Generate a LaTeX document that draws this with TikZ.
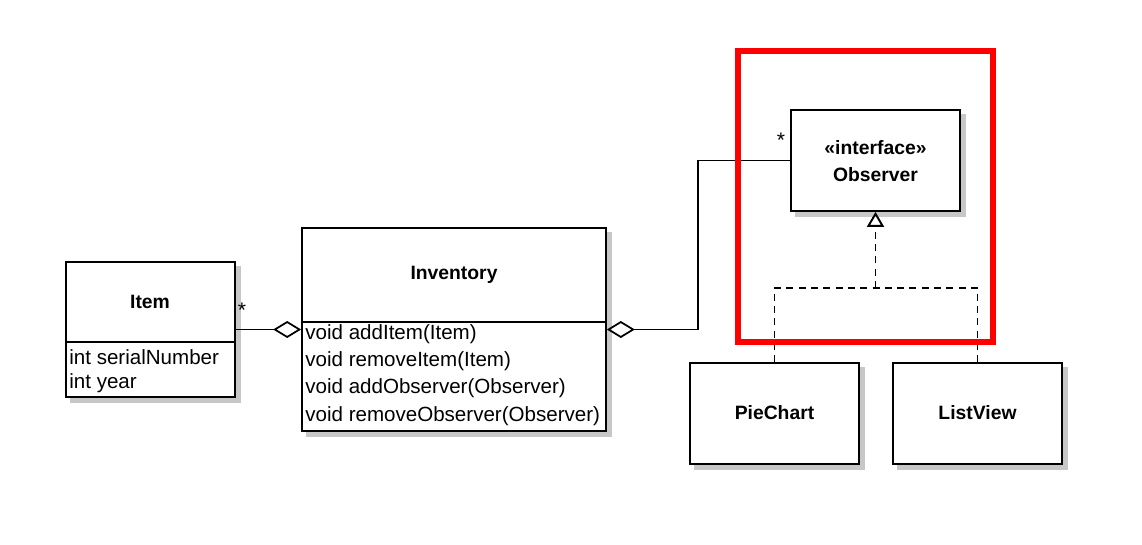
\documentclass[tikz,border=0pt]{standalone}
\usepackage{fontspec}
\setmainfont{Liberation Sans}
\usepackage{tikz}
\usetikzlibrary{arrows.meta, positioning, calc, backgrounds}

\begin{document}
\begin{tikzpicture}[x=0.02cm, y=-0.02cm,
  classbox/.style={draw, line width=1pt, fill=white, inner sep=0pt},
  boxshadow/.style={fill=black!22, draw=none},
  classname/.style={font=\bfseries\fontsize{11}{15}\selectfont, align=center, inner sep=0pt},
  member/.style={font=\fontsize{11.7}{14}\selectfont, anchor=west, inner sep=0pt},
  mult/.style={font=\fontsize{12}{13}\selectfont, inner sep=0pt},
  assoc/.style={line width=1pt, {Diamond[open, length=0.56cm, width=0.34cm]}-},
  realize/.style={line width=1.1pt, dash pattern=on 4pt off 3pt}]

\useasboundingbox (0,0) rectangle (1142,544);

% Classes
\node[classbox, minimum width=3.38cm, minimum height=2.7cm] (item) at (150.5,329.5) {};
\node[classbox, minimum width=6.08cm, minimum height=4.06cm] (inv) at (454,329.5) {};
\node[classbox, minimum width=3.38cm, minimum height=2.02cm] (obs) at (875.5,160.5) {};
\node[classbox, minimum width=3.38cm, minimum height=2.02cm] (pie) at (774.5,413.5) {};
\node[classbox, minimum width=3.38cm, minimum height=2.02cm] (list) at (977.5,413.5) {};

% Shadows
\begin{scope}[on background layer]
\foreach \n in {item, inv, obs, pie, list} {
  \fill[boxshadow] ($(\n.north west)+(5,5)$) rectangle ($(\n.south east)+(5,5)$);
}
\end{scope}

% Names
\node[classname] (itemname) at (150,302) {Item};
\node[classname] (invname) at (454,275) {Inventory};
\node[classname] (obsname) at (875.5,161) {«interface»\\Observer};
\node[classname] (piename) at (774.5,413) {PieChart};
\node[classname] (listname) at (977.5,413) {ListView};

% Compartments
\draw[line width=1pt] ($(item.west)+(0,12.5)$) -- ($(item.east)+(0,12.5)$);
\draw[line width=1pt] ($(inv.west)+(0,-7.5)$) -- ($(inv.east)+(0,-7.5)$);
\node[member] (serial) at (69,357) {int serialNumber};
\node[member] (year) at (69,383) {int year};
\foreach \m [count=\i from 0] in {{void addItem(Item)}, {void removeItem(Item)},
    {void addObserver(Observer)}, {void removeObserver(Observer)}} {
  \node[member] (op\i) at (305,334+27.3*\i) {\m};
}

% Associations
\coordinate (bend) at (698,160.5);
\draw[assoc] (inv.west) -- (item.east);
\draw[assoc] (inv.east) -| (bend) -- (obs.west);
\node[mult] (m1) at (242,310) {*};
\node[mult] (m2) at (781,140) {*};

% Realization
\coordinate (join) at (875.5,288);
\draw[realize] (pie.north) |- (join) -| (list.north);
\draw[realize, -{Triangle[open, length=0.3cm, width=0.34cm]}] (join) -- (obs.south);

% Highlight
\draw[red, line width=3pt] (738,51) rectangle (993,342);

\end{tikzpicture}
\end{document}
